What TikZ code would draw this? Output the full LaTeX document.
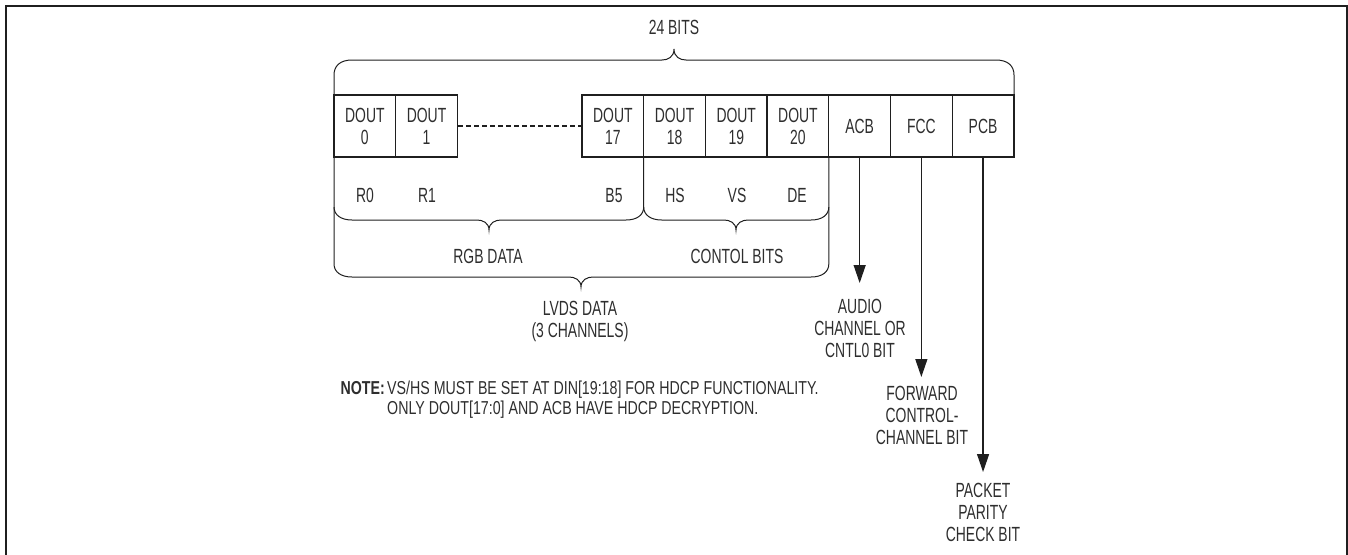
\documentclass[tikz,border=0pt]{standalone}
\usepackage{fontspec}
\newfontfamily\cond[FakeStretch=0.68]{Liberation Sans}
\newfontfamily\condn[FakeStretch=0.76]{Liberation Sans}
\usetikzlibrary{arrows.meta}
\definecolor{ink}{gray}{0.12}
\definecolor{txt}{gray}{0.18}
\begin{document}
\begin{tikzpicture}[x=1pt,y=-1pt,
  font=\cond\fontsize{20.5}{22}\selectfont,
  bitbox/.style={draw=ink,line width=1.3pt,minimum width=61.7pt,minimum height=62pt,inner sep=0pt,align=center,text=txt},
  lbl/.style={inner sep=0pt,align=center,text=txt},
  notetxt/.style={inner sep=0pt,text=txt,font=\condn\fontsize{18.7}{20}\selectfont},
  brace/.style={draw=ink,line width=1pt},
  arr/.style={draw=ink,line width=1.3pt,-{Triangle[width=12pt,length=18pt]}}]
\useasboundingbox (0,0) rectangle (1348,554);
% frame
\draw[ink,line width=2pt] (6,556) -- (6,6) -- (1346.5,6) -- (1346.5,556);
% boxes
\node[bitbox] (d0)  at (364.85,126) {DOUT\\0};
\node[bitbox] (d1)  at (426.55,126) {DOUT\\1};
\node[bitbox] (d17) at (612.85,126) {DOUT\\17};
\node[bitbox] (d18) at (674.55,126) {DOUT\\18};
\node[bitbox] (d19) at (736.25,126) {DOUT\\19};
\node[bitbox] (d20) at (797.95,126) {DOUT\\20};
\node[bitbox] (acb) at (859.65,126) {ACB};
\node[bitbox] (fcc) at (921.35,126) {FCC};
\node[bitbox] (pcb) at (983.05,126) {PCB};
\draw[ink,line width=1.3pt,dashed,dash pattern=on 5pt off 3pt] (d1.east) -- (d17.west);
% top brace
\draw[brace] (334,95) -- (334,75) .. controls (334,66) and (340,60) .. (352,60) -- (662,60)
  .. controls (668,60) and (674,57) .. (674,49) .. controls (674,57) and (680,60) .. (686,60)
  -- (996,60) .. controls (1008,60) and (1014,66) .. (1014,75) -- (1014,95);
\node[lbl,anchor=base] (bits) at (674,34.5) {24 BITS};
% bottom labels
\node[lbl,anchor=base] (r0) at (365,202.5) {R0};
\node[lbl,anchor=base] (r1) at (427,202.5) {R1};
\node[lbl,anchor=base] (b5) at (614,202.5) {B5};
\node[lbl,anchor=base] (hs) at (675,202.5) {HS};
\node[lbl,anchor=base] (vs) at (737,202.5) {VS};
\node[lbl,anchor=base] (de) at (797,202.5) {DE};
% RGB brace
\draw[brace] (334,157) -- (334,207) .. controls (334,215) and (341,220) .. (352,220) -- (477,220)
  .. controls (483,220) and (489,223) .. (489,230) .. controls (489,223) and (495,220) .. (501,220)
  -- (626,220) .. controls (637,220) and (643.7,215) .. (643.7,207) -- (643.7,157);
% control brace
\draw[brace] (643.7,207) .. controls (643.7,215) and (650.7,220) .. (661.7,220) -- (724,220)
  .. controls (730,220) and (736,223) .. (736,230) .. controls (736,223) and (742,220) .. (748,220)
  -- (811,220) .. controls (822,220) and (828.8,215) .. (828.8,207) -- (828.8,157);
\node[lbl,anchor=base] (rgb) at (488,263.5) {RGB DATA};
\node[lbl,anchor=base] (ctl) at (737,263.5) {CONTOL BITS};
% LVDS brace
\draw[brace] (334,207) -- (334,264) .. controls (334,272) and (341,277) .. (352,277) -- (569,277)
  .. controls (575,277) and (581,280) .. (581,287) .. controls (581,280) and (587,277) .. (593,277)
  -- (811,277) .. controls (822,277) and (828.8,272) .. (828.8,264) -- (828.8,207);
\node[lbl] (lvds) at (580,321) {LVDS DATA\\(3 CHANNELS)};
% arrows
\coordinate (acbend) at (859.65,283);
\coordinate (fccend) at (921.35,377);
\coordinate (pcbend) at (983.05,472);
\draw[arr] (acb.south) -- (acbend);
\draw[arr] (fcc.south) -- (fccend);
\draw[arr] (pcb.south) -- (pcbend);
\node[lbl] (audio) at (860,328) {AUDIO\\CHANNEL OR\\CNTL0 BIT};
\node[lbl] (fwd) at (922,415) {FORWARD\\CONTROL-\\CHANNEL BIT};
\node[lbl] (ppc) at (983,512) {PACKET\\PARITY\\CHECK BIT};
% note
\node[notetxt,anchor=base east] (notelbl) at (385,394.5) {\bfseries NOTE:};
\node[notetxt,anchor=base west] (note1) at (387,394.5) {VS/HS MUST BE SET AT DIN[19:18] FOR HDCP FUNCTIONALITY.};
\node[notetxt,anchor=base west] (note2) at (387,414.5) {ONLY DOUT[17:0] AND ACB HAVE HDCP DECRYPTION.};
\end{tikzpicture}
\end{document}
